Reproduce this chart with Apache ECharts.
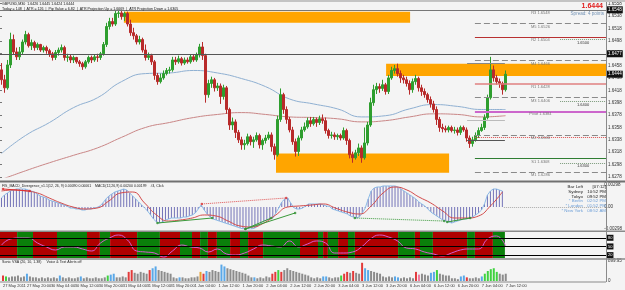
<!DOCTYPE html>
<html>
<head>
<meta charset="utf-8">
<script src="https://cdn.jsdelivr.net/npm/echarts@6/dist/echarts.min.js"></script>
<style>
html,body{margin:0;padding:0;background:#f4f4f4;overflow:hidden}
#chart{width:625px;height:290px}
</style>
</head>
<body>
<div id="chart"></div>
<script>
// ================= DATA =================
// trading days and hour ranges (one candle = one hour)
const days = ['27 May','30 May','31 May','1 Jun','2 Jun','3 Jun','6 Jun','7 Jun'];
const dayFirstHour = [12,0,0,0,0,0,0,0];
const dayLastHour  = [23,23,23,23,23,23,23,12];
const firstLabel = '27 May 2011';
const TOTAL_SLOTS = 202; // incl. empty right margin (chart shift)

const openP = [1.6451,1.6435,1.6422,1.6459,1.6500,1.6480,1.6472,1.6480,1.6496,1.6508,1.6490,1.6495,1.6487,1.6492,1.6483,1.6487,1.6482,1.6477,1.6471,1.6479,1.6483,1.6487,1.6471,1.6472,1.6467,1.6471,1.6464,1.6461,1.6456,1.6464,1.6471,1.6467,1.6472,1.6471,1.6477,1.6492,1.6521,1.6529,1.6525,1.6542,1.6543,1.6537,1.6542,1.6525,1.6511,1.6506,1.6496,1.6500,1.6483,1.6471,1.6474,1.6464,1.6442,1.6432,1.6438,1.6445,1.6450,1.6451,1.6467,1.6464,1.6469,1.6462,1.6467,1.6464,1.6472,1.6467,1.6475,1.6488,1.6474,1.6411,1.6429,1.6435,1.6422,1.6425,1.6408,1.6422,1.6387,1.6362,1.6367,1.6350,1.6338,1.6330,1.6332,1.6343,1.6335,1.6338,1.6345,1.6330,1.6337,1.6341,1.6346,1.6327,1.6314,1.6371,1.6411,1.6387,1.6371,1.6354,1.6335,1.6319,1.6341,1.6354,1.6359,1.6369,1.6364,1.6371,1.6366,1.6372,1.6369,1.6353,1.6345,1.6346,1.6343,1.6345,1.6341,1.6353,1.6337,1.6314,1.6309,1.6317,1.6325,1.6309,1.6333,1.6362,1.6398,1.6419,1.6424,1.6421,1.6427,1.6416,1.6438,1.6450,1.6453,1.6445,1.6438,1.6435,1.6429,1.6419,1.6432,1.6437,1.6422,1.6416,1.6411,1.6403,1.6396,1.6387,1.6371,1.6358,1.6356,1.6354,1.6358,1.6353,1.6354,1.6350,1.6358,1.6354,1.6341,1.6332,1.6338,1.6345,1.6353,1.6358,1.6374,1.6406,1.6451,1.6438,1.6432,1.6429,1.6419];
const closeP = [1.6435,1.6422,1.6459,1.6500,1.6480,1.6472,1.6480,1.6496,1.6508,1.6490,1.6495,1.6487,1.6492,1.6483,1.6487,1.6482,1.6477,1.6471,1.6479,1.6483,1.6487,1.6471,1.6472,1.6467,1.6471,1.6464,1.6461,1.6456,1.6464,1.6471,1.6467,1.6472,1.6471,1.6477,1.6492,1.6521,1.6529,1.6525,1.6542,1.6543,1.6537,1.6542,1.6525,1.6511,1.6506,1.6496,1.6500,1.6483,1.6471,1.6474,1.6464,1.6442,1.6432,1.6438,1.6445,1.6450,1.6451,1.6467,1.6464,1.6469,1.6462,1.6467,1.6464,1.6472,1.6467,1.6475,1.6488,1.6474,1.6411,1.6429,1.6435,1.6422,1.6425,1.6408,1.6422,1.6387,1.6362,1.6367,1.6350,1.6338,1.6330,1.6332,1.6343,1.6335,1.6338,1.6345,1.6330,1.6337,1.6341,1.6346,1.6327,1.6314,1.6371,1.6411,1.6387,1.6371,1.6354,1.6335,1.6319,1.6341,1.6354,1.6359,1.6369,1.6364,1.6371,1.6366,1.6372,1.6369,1.6353,1.6345,1.6346,1.6343,1.6345,1.6341,1.6353,1.6337,1.6314,1.6309,1.6317,1.6325,1.6309,1.6333,1.6362,1.6398,1.6419,1.6424,1.6421,1.6427,1.6416,1.6438,1.6450,1.6453,1.6445,1.6438,1.6435,1.6429,1.6419,1.6432,1.6437,1.6422,1.6416,1.6411,1.6403,1.6396,1.6387,1.6371,1.6358,1.6356,1.6354,1.6358,1.6353,1.6354,1.6350,1.6358,1.6354,1.6341,1.6332,1.6338,1.6345,1.6353,1.6358,1.6374,1.6406,1.6451,1.6438,1.6432,1.6429,1.6419,1.6444];
const lowP = [1.6427,1.6414,1.6419,1.6454,1.6475,1.6467,1.6467,1.6475,1.6492,1.6487,1.6483,1.6482,1.6483,1.6480,1.6479,1.6477,1.6472,1.6466,1.6467,1.6474,1.6479,1.6466,1.6464,1.6462,1.6462,1.6461,1.6456,1.6451,1.6453,1.6461,1.6462,1.6464,1.6464,1.6467,1.6474,1.6488,1.6516,1.6521,1.6522,1.6535,1.6532,1.6530,1.6521,1.6506,1.6500,1.6492,1.6492,1.6479,1.6466,1.6467,1.6459,1.6435,1.6427,1.6429,1.6435,1.6442,1.6445,1.6448,1.6459,1.6461,1.6458,1.6459,1.6461,1.6461,1.6464,1.6464,1.6471,1.6467,1.6398,1.6406,1.6422,1.6416,1.6417,1.6396,1.6403,1.6380,1.6354,1.6354,1.6341,1.6333,1.6322,1.6322,1.6329,1.6329,1.6325,1.6335,1.6324,1.6322,1.6332,1.6338,1.6319,1.6306,1.6311,1.6367,1.6380,1.6364,1.6350,1.6330,1.6311,1.6312,1.6337,1.6351,1.6356,1.6359,1.6361,1.6359,1.6362,1.6364,1.6348,1.6340,1.6340,1.6338,1.6338,1.6337,1.6338,1.6330,1.6308,1.6301,1.6306,1.6312,1.6301,1.6306,1.6329,1.6359,1.6393,1.6412,1.6414,1.6417,1.6411,1.6412,1.6435,1.6445,1.6440,1.6430,1.6429,1.6424,1.6411,1.6414,1.6427,1.6416,1.6409,1.6406,1.6398,1.6390,1.6382,1.6362,1.6351,1.6350,1.6350,1.6350,1.6350,1.6348,1.6345,1.6346,1.6351,1.6335,1.6325,1.6327,1.6335,1.6341,1.6351,1.6354,1.6371,1.6403,1.6432,1.6427,1.6422,1.6411,1.6416];
const highP = [1.6462,1.6443,1.6467,1.6511,1.6508,1.6487,1.6488,1.6500,1.6514,1.6511,1.6500,1.6498,1.6495,1.6493,1.6490,1.6490,1.6485,1.6480,1.6483,1.6487,1.6492,1.6490,1.6477,1.6475,1.6474,1.6472,1.6467,1.6464,1.6467,1.6474,1.6474,1.6475,1.6477,1.6480,1.6496,1.6527,1.6535,1.6535,1.6546,1.6548,1.6546,1.6545,1.6545,1.6532,1.6519,1.6509,1.6506,1.6503,1.6492,1.6479,1.6477,1.6467,1.6446,1.6445,1.6450,1.6454,1.6456,1.6472,1.6472,1.6474,1.6472,1.6471,1.6471,1.6475,1.6475,1.6479,1.6493,1.6496,1.6477,1.6435,1.6440,1.6438,1.6430,1.6429,1.6427,1.6425,1.6390,1.6374,1.6371,1.6354,1.6343,1.6338,1.6348,1.6346,1.6343,1.6350,1.6348,1.6340,1.6346,1.6351,1.6350,1.6332,1.6377,1.6421,1.6414,1.6392,1.6375,1.6359,1.6340,1.6345,1.6359,1.6366,1.6374,1.6375,1.6375,1.6374,1.6377,1.6379,1.6374,1.6356,1.6351,1.6350,1.6348,1.6348,1.6358,1.6356,1.6340,1.6319,1.6322,1.6332,1.6329,1.6358,1.6367,1.6406,1.6427,1.6430,1.6429,1.6435,1.6430,1.6443,1.6456,1.6459,1.6461,1.6450,1.6443,1.6440,1.6434,1.6437,1.6443,1.6440,1.6427,1.6421,1.6414,1.6408,1.6401,1.6392,1.6375,1.6364,1.6361,1.6361,1.6361,1.6359,1.6358,1.6361,1.6361,1.6358,1.6345,1.6343,1.6350,1.6358,1.6364,1.6379,1.6411,1.6472,1.6458,1.6443,1.6437,1.6432,1.6450];

// moving averages, one reading every 8 bars
const MA_STEP = 8;
const maBlue = [1.6316,1.6345,1.6366,1.6390,1.6406,1.6432,1.6445,1.6446,1.6450,1.6446,1.6437,1.6424,1.6404,1.6396,1.6388,1.6375,1.6377,1.6388,1.6395,1.6392,1.6387,1.6387];
const maRed  = [1.6274,1.6288,1.6301,1.6313,1.6325,1.6342,1.6358,1.6366,1.6374,1.6379,1.6382,1.6379,1.6375,1.6374,1.6372,1.6367,1.6369,1.6375,1.6380,1.6379,1.6375,1.6377];

// price zones [startBar, endBar, lowPrice, highPrice]
const zones = [[41.3,136.7,1.6527,1.6545],[128.7,202,1.6441,1.6461],[92,149.7,1.6285,1.6316]];
// pivot levels (drawn from bar 158.3)
const pivotNames  = ['R3','M5','R2','M4','R1','M3','Pivot','M2','S1','M1'];
const pivotValues = [1.6548,1.6526,1.6504,1.6466,1.6428,1.6406,1.6384,1.6346,1.6308,1.6286];
const pivotStartBar = 158.3;
const roundLevels = [1.6500,1.6400,1.6300];
const roundStartBar = 186.7;
const sessionLevels = [1.6462,1.6369,1.6337];
const sessionBars = [155.7,168.3];
const prevLowLevel = 1.6342;
const dayOpenLevel = 1.6477;
const topLevel = 1.6548;
const bidPrice = 1.6444;

// MACD histogram (per bar) and signal (every 4 bars)
const macdHist = [0.00122,0.00163,0.00190,0.00217,0.00230,0.00244,0.00244,0.00244,0.00244,0.00230,0.00217,0.00203,0.00176,0.00149,0.00136,0.00122,0.00095,0.00081,0.00068,0.00054,0.00041,0.00027,0.00014,
-0.00014,-0.00014,-0.00027,-0.00027,-0.00041,-0.00041,-0.00027,-0.00027,-0.00014,-0.00007,
0.00014,0.00054,0.00108,0.00149,0.00176,0.00203,0.00217,0.00230,0.00244,0.00230,0.00190,0.00149,0.00108,0.00068,0.00027,
-0.00014,-0.00054,-0.00108,-0.00163,-0.00203,-0.00217,-0.00203,-0.00176,-0.00163,-0.00149,-0.00149,-0.00149,-0.00149,-0.00136,-0.00136,-0.00122,-0.00108,-0.00081,-0.00027,0.00027,
-0.00041,-0.00095,-0.00136,-0.00163,-0.00176,-0.00190,-0.00203,-0.00217,-0.00230,-0.00244,-0.00257,-0.00271,-0.00285,-0.00298,-0.00298,-0.00298,-0.00298,-0.00285,-0.00257,-0.00217,-0.00190,-0.00176,-0.00163,-0.00149,-0.00081,-0.00014,
0.00068,0.00108,0.00122,0.00054,-0.00007,-0.00027,-0.00027,-0.00014,0.00014,0.00041,0.00041,0.00041,0.00041,0.00041,0.00027,0.00014,0.00007,
-0.00027,-0.00041,-0.00054,-0.00068,-0.00081,-0.00095,-0.00122,-0.00136,-0.00149,-0.00136,-0.00081,-0.00014,
0.00108,0.00217,0.00257,0.00271,0.00271,0.00285,0.00285,0.00285,0.00285,0.00285,0.00271,0.00244,0.00217,0.00190,0.00163,0.00136,0.00108,0.00068,0.00041,0.00014,
-0.00027,-0.00068,-0.00095,-0.00122,-0.00149,-0.00176,-0.00190,-0.00203,-0.00217,-0.00203,-0.00190,-0.00176,-0.00163,-0.00163,-0.00149,-0.00136,-0.00108,-0.00081,-0.00041,
0.00041,0.00163,0.00217,0.00244,0.00244,0.00230,0.00217];
const SIG_STEP = 4;
const macdSignal = [0.00217,0.00230,0.00217,0.00190,0.00122,0.00054,0.00000,-0.00027,-0.00014,0.00081,0.00190,0.00203,0.00054,-0.00108,-0.00190,-0.00176,-0.00149,-0.00108,-0.00122,-0.00190,-0.00257,-0.00271,-0.00217,-0.00108,0.00000,0.00014,0.00027,0.00041,-0.00014,-0.00068,-0.00095,0.00014,0.00190,0.00271,0.00230,0.00136,0.00054,-0.00054,-0.00149,-0.00149,-0.00122,0.00014,0.00203];
// divergence segments [bar1, value1, bar2, value2]
const divGreen = [[52.8,-0.00217,71.2,-0.00149],[82.3,-0.00298,99,-0.00081],[82.3,-0.00298,91,-0.00149],[150,-0.00203,157.7,-0.00149]];
const divGreenDot = [[119,-0.00149,149,-0.00190]];
const divRedDot = [[67.7,0.00041,96,0.00122]];
const divRed = [[1,0.00244,10,0.00217]];

// oscillator (every 3 bars) and its red/green state bands [startBar, state]
const OSC_STEP = 3;
const osc = [55.0,75.8,79.2,79.2,61.9,48.1,37.7,48.1,48.1,41.2,34.3,61.9,79.2,89.6,72.3,34.3,30.8,27.3,13.5,34.3,55.0,48.1,44.6,30.8,41.2,23.9,20.4,27.3,41.2,55.0,51.6,48.1,68.9,48.1,58.5,68.9,61.9,27.3,27.3,30.8,48.1,75.8,89.6,82.7,68.9,44.6,41.2,30.8,23.9,17.0,27.3,37.7,41.2,41.2,75.8,86.2,51.6];
const oscLevels = [80,50,20];
const bandStart = [0,5.7,11,19,29,33.3,36.7,45.7,53.3,60,64,66.7,69.3,72.3,76.7,80,82.7,87.7,100,106,107.7,109.3,112.7,116,118.3,132.7,138.3,140,144.3,155.7,158.3,164.3];
const bandState = ['r','g','r','g','r','g','r','g','r','g','r','g','r','g','r','g','r','g','r','g','r','g','r','g','r','g','r','g','r','g','r','g'];
const bandEndBar = 168.3;

// volume (per bar) and VSA bar type
const volume = [246,205,164,205,205,246,164,205,328,205,164,164,123,164,123,164,123,164,123,246,164,123,164,123,123,164,205,123,164,123,123,164,123,123,164,246,287,328,164,164,205,164,410,492,369,328,410,369,328,492,574,656,492,451,410,369,328,164,123,164,164,123,123,164,164,205,410,328,451,410,492,451,410,738,656,574,533,492,451,410,369,328,246,164,164,123,164,123,205,164,328,410,492,410,492,574,492,451,410,369,328,287,246,164,123,164,123,205,205,164,123,164,164,246,328,410,369,451,369,328,820,574,492,451,410,369,328,205,164,205,164,205,164,123,164,123,164,123,410,287,328,287,246,369,410,492,328,287,246,246,123,123,82,205,246,164,123,123,164,123,205,328,451,533,574,410,328,287,328];
const volType = 'rG'+'nnnnnn'+'b'+'nnnnnnnnnn'+'b'+'nnnnnn'+'b'+'nnnnnnnn'+'Gbb'+'nnnn'+'rr'+'nnnnn'+'rbb'+'nnnnnnn'+'b'+'nnnnnn'+'orb'+'nnnn'+'bb'+'nnnnnnnnn'+'b'+'nnnnn'+'rrGr'+'nnnnnnnnnnnnn'+'bb'+'nnnn'+'Grr'+'n'+'r'+'nn'+'rbb'+'nnnnnnnn'+'bb'+'nnnnn'+'rp'+'nnn'+'bbG'+'nnnnnnn'+'bbr'+'nnnn'+'bGGGGG'+'nnn';
const volMax = 899.95;

// clock panel text
const clockNames = ['Bar Left','Sydney','Tokyo','* Berlin','* London','* New York'];
const clockTimes = ['[07:12]','10:52 PM','09:52 PM','02:52 PM','01:52 PM','08:52 AM'];

// ================= BUILD =================
const categories = [];
days.forEach((d,k)=>{ for(let h=dayFirstHour[k]; h<=dayLastHour[k]; h++) categories.push(d+' '+String(h).padStart(2,'0')+':00'); });
const nBars = categories.length;
while (categories.length < TOTAL_SLOTS) categories.push('');

function spread(arr, step){ const out = new Array(nBars).fill(null); arr.forEach((v,k)=>{ if(k*step<nBars) out[k*step]=v; }); return out; }

const FF = '"Liberation Sans", Arial, sans-serif';
const candles = openP.map((o,i)=>[o, closeP[i], lowP[i], highP[i]]);

const grids = [
  {left:0, width:606, top:3.6, height:173.4},
  {left:0, width:606, top:185, height:44},
  {left:0, width:606, top:232, height:26},
  {left:0, width:606, top:261, height:20}
];
const xAxes = [];
for (let g=0; g<4; g++) {
  xAxes.push({type:'category', gridIndex:g, data:categories, boundaryGap:true,
    show: g===3,
    axisLine:{show:false}, axisTick:{show:false},
    axisLabel:{show:g===3, interval:7, align:'left', fontSize:4, color:'#333', fontFamily:FF, margin:3,
      formatter:(v,i)=> i===0 ? firstLabel : v}});
}
for (let g=0; g<4; g++) xAxes.push({type:'value', gridIndex:g, min:0, max:TOTAL_SLOTS, show:false});

const lblStyle = {fontSize:4.5, color:'#333', fontFamily:FF, margin:2};
const yAxes = [
  {type:'value', gridIndex:0, position:'right', min:1.6278, max:1.6558, interval:0.002, splitLine:{show:false},
   axisLine:{show:false}, axisTick:{show:true, length:2, lineStyle:{color:'#777'}},
   axisLabel:Object.assign({formatter:v=>v.toFixed(4)}, lblStyle)},
  {type:'value', gridIndex:1, position:'right', min:-0.00298, max:0.00298, interval:0.00298, splitLine:{show:false},
   axisLine:{show:false}, axisTick:{show:false},
   axisLabel:Object.assign({formatter:v=> Math.abs(v)<1e-9 ? '0.00' : v.toFixed(5)}, lblStyle)},
  {type:'value', gridIndex:2, position:'right', min:10, max:100, splitLine:{show:false}, axisLine:{show:false}, axisTick:{show:false}, axisLabel:{show:false}},
  {type:'value', gridIndex:3, position:'right', min:0, max:volMax, interval:volMax, splitLine:{show:false},
   axisLine:{show:false}, axisTick:{show:false},
   axisLabel:Object.assign({formatter:v=> v>0 ? v.toFixed(2) : '0'}, lblStyle)}
];

const series = [];
// zones (behind candles)
series.push({type:'line', xAxisIndex:4, yAxisIndex:0, data:[], silent:true, z:1,
  markArea:{silent:true, itemStyle:{color:'#ffa500'},
    data: zones.map(z=>[{xAxis:z[0], yAxis:z[3]},{xAxis:z[1], yAxis:z[2]}])}});

// horizontal levels
function seg(x1,x2,y,style,label){ return [{coord:[x1,y], lineStyle:style, label:label||{show:false}},{coord:[x2,y]}]; }
const lvl = [];
const tinyLbl = (txt,pos,color)=>({show:true, formatter:txt, position:pos||'insideMiddleBottom', fontSize:4, color:color||'#777', fontFamily:FF, distance:1});
pivotNames.forEach((n,k)=>{
  let st;
  if (n==='Pivot') st={color:'#cc66cc', width:2, type:'solid'};
  else if (n[0]==='M') st={color:'#8a8a8a', width:1, type:[6,3]};
  else if (n==='R1') st={color:'#e08080', width:1.5, type:'solid'};
  else if (n[0]==='R') st={color:'#b83030', width:1, type:'solid'};
  else st={color:'#2e7d32', width:1, type:'solid'};
  lvl.push(seg(pivotStartBar, TOTAL_SLOTS, pivotValues[k], st, tinyLbl(n+' '+pivotValues[k].toFixed(4))));
});
roundLevels.forEach(v=> lvl.push(seg(roundStartBar, TOTAL_SLOTS, v, {color:'#7a9a7a', width:1, type:'dotted'}, tinyLbl(v.toFixed(4),'insideMiddleBottom','#333'))));
sessionLevels.forEach((v,k)=> lvl.push(seg(sessionBars[0], sessionBars[1], v, {color:['#888','#bbb','#555'][k], width:1, type:'solid'})));
lvl.push(seg(pivotStartBar, TOTAL_SLOTS, prevLowLevel, {color:'#e05050', width:1, type:'dotted'}));
const boxLbl = (txt)=>({show:true, formatter:txt, position:'end', fontSize:4.5, color:'#fff', backgroundColor:'#111', padding:[1,1], fontFamily:FF, distance:1});
lvl.push(seg(0, TOTAL_SLOTS, dayOpenLevel, {color:'#555', width:1, type:'solid'}, boxLbl(dayOpenLevel.toFixed(4))));
lvl.push(seg(0, TOTAL_SLOTS, topLevel, {color:'#777', width:1, type:'solid'}, boxLbl(topLevel.toFixed(4))));
lvl.push(seg(TOTAL_SLOTS-1, TOTAL_SLOTS, bidPrice, {color:'rgba(0,0,0,0)', width:1, type:'solid'}, boxLbl(bidPrice.toFixed(4))));
series.push({type:'line', xAxisIndex:4, yAxisIndex:0, data:[], silent:true, z:2,
  markLine:{silent:true, symbol:['none','none'], animation:false, data:lvl}});

// moving averages
series.push({type:'line', xAxisIndex:0, yAxisIndex:0, data:spread(maBlue, MA_STEP), connectNulls:true, smooth:true, symbol:'none', z:2, lineStyle:{color:'#8fb0d2', width:1}});
series.push({type:'line', xAxisIndex:0, yAxisIndex:0, data:spread(maRed, MA_STEP), connectNulls:true, smooth:true, symbol:'none', z:2, lineStyle:{color:'#c98686', width:1}});

// candles
series.push({type:'candlestick', xAxisIndex:0, yAxisIndex:0, data:candles, barWidth:2, z:3,
  itemStyle:{color:'#2e9e2e', color0:'#b82a2a', borderColor:'#2e9e2e', borderColor0:'#b82a2a', borderWidth:1}});

// MACD
series.push({type:'bar', xAxisIndex:1, yAxisIndex:1, data:macdHist, barWidth:1, itemStyle:{color:'#7474b8'}, z:2});
series.push({type:'line', xAxisIndex:1, yAxisIndex:1, data:macdHist, symbol:'none', lineStyle:{color:'#8cbbe6', width:1}, z:3});
series.push({type:'line', xAxisIndex:1, yAxisIndex:1, data:spread(macdSignal, SIG_STEP), connectNulls:true, smooth:true, symbol:'none', lineStyle:{color:'#d24a4a', width:1}, z:4});
const divLines = [];
divGreen.forEach(d=>divLines.push([{coord:[d[0],d[1]], lineStyle:{color:'#3a9a3a', width:1, type:'solid'}},{coord:[d[2],d[3]]}]));
divGreenDot.forEach(d=>divLines.push([{coord:[d[0],d[1]], lineStyle:{color:'#3a9a3a', width:1, type:'dotted'}},{coord:[d[2],d[3]]}]));
divRedDot.forEach(d=>divLines.push([{coord:[d[0],d[1]], lineStyle:{color:'#e05050', width:1, type:'dotted'}},{coord:[d[2],d[3]]}]));
divRed.forEach(d=>divLines.push([{coord:[d[0],d[1]], lineStyle:{color:'#e03030', width:1, type:'solid'}},{coord:[d[2],d[3]]}]));
divLines.push([{coord:[nBars, 0], lineStyle:{color:'#aaa', width:1, type:'dotted'}},{coord:[TOTAL_SLOTS, 0]}]);
series.push({type:'line', xAxisIndex:5, yAxisIndex:1, data:[], silent:true, z:5,
  markLine:{silent:true, symbol:['none','none'], animation:false, label:{show:false}, data:divLines}});
const divPts = [];
divGreen.concat(divGreenDot).forEach(d=>{divPts.push([d[0],d[1]]); divPts.push([d[2],d[3]]);});
series.push({type:'scatter', xAxisIndex:5, yAxisIndex:1, data:divPts, symbol:'circle', symbolSize:2.5, itemStyle:{color:'#2f8f2f'}, z:6});
const redPts = [];
divRedDot.concat(divRed).forEach(d=>{redPts.push([d[0],d[1]]); redPts.push([d[2],d[3]]);});
series.push({type:'scatter', xAxisIndex:5, yAxisIndex:1, data:redPts, symbol:'circle', symbolSize:2.5, itemStyle:{color:'#d83030'}, z:6});

// oscillator bands + line + levels
const bands = bandStart.map((s,k)=>[{xAxis:s, itemStyle:{color: bandState[k]==='g' ? '#0a800a' : '#b00000'}},{xAxis: k+1<bandStart.length ? bandStart[k+1] : bandEndBar}]);
series.push({type:'line', xAxisIndex:6, yAxisIndex:2, data:[], silent:true, z:1,
  markArea:{silent:true, data:bands},
  markLine:{silent:true, symbol:['none','none'], animation:false,
    data: oscLevels.map(v=>[{coord:[0,v], lineStyle:{color:'#000', width:1.2, type:'solid'},
      label:{show:true, position:'end', formatter:String(v), fontSize:4, color:'#fff', backgroundColor:'#111', padding:[1,1], distance:1}},{coord:[TOTAL_SLOTS,v]}])}});
series.push({type:'line', xAxisIndex:2, yAxisIndex:2, data:spread(osc, OSC_STEP), connectNulls:true, smooth:true, symbol:'none', lineStyle:{color:'#d55bd0', width:1}, z:3});

// volume
const volColors = {n:'#8c8c8c', b:'#5aa8e8', r:'#e23a3a', G:'#3fd23f', o:'#e8a030', p:'#f07aa0'};
series.push({type:'bar', xAxisIndex:3, yAxisIndex:3, data:volume, barWidth:2,
  itemStyle:{color:p=>volColors[volType[p.dataIndex]] || '#8c8c8c'}});

// text & frame graphics
const txt = (x,y,t,size,color,align,weight)=>({type:'text', x:x, y:y, z:100, silent:true,
  style:{text:t, fontSize:size, fill:color, fontFamily:FF, textAlign:align||'left', textVerticalAlign:'top', fontWeight:weight||'normal'}});
const rect = (x,y,w,h,fill)=>({type:'rect', shape:{x:x,y:y,width:w,height:h}, z:90, silent:true, style:{fill:fill}});
const graphics = [
  rect(0,0,625,2,'#c4c4c4'),
  rect(0,180.5,625,2,'#707070'),
  rect(0,230.5,625,1.5,'#8a8a8a'),
  rect(0,258.3,625,1.5,'#8a8a8a'),
  rect(0,281.5,606,1,'#8a8a8a'),
  rect(606,2,1,280,'#8a8a8a'),
  txt(2,2.4,'GBPUSD,M30  1.6426 1.6445 1.6424 1.6444',3.6,'#111'),
  txt(2,6.8,'Today = 148  |  ATR = 126  |  Pip Value = 6.82  |  ATR Projection Up = 1.6669  |  ATR Projection Down = 1.6305',3.6,'#111'),
  txt(603,3,'1.6444',7,'#e01e1e','right','bold'),
  txt(604,11.5,'Spread: 4 points',4.6,'#7392b4','right'),
  txt(2,183.6,'FIS_MACD_Divergence_v1.1(12, 26, 9) 0.00090 0.00061    MACD(12,26,9) 0.00200 0.00199    #4, Click',3.5,'#222'),
  txt(2,260,'Sonic VSA (20, 10, 1.38)     Voice & Text Alerts off',3.6,'#222')
];
clockNames.forEach((n,k)=>{
  const col = n[0]==='*' ? '#6fa0d8' : '#222';
  graphics.push(txt(583, 184.5+k*4.9, n, 4.4, col, 'right'));
  graphics.push(txt(606, 184.5+k*4.9, clockTimes[k], 4.4, col, 'right'));
});

const chart = echarts.init(document.getElementById('chart'), null, {renderer:'canvas'});
chart.setOption({
  backgroundColor:'#f4f4f4',
  animation:false,
  grid:grids, xAxis:xAxes, yAxis:yAxes, series:series, graphic:graphics
});
</script>
</body>
</html>
